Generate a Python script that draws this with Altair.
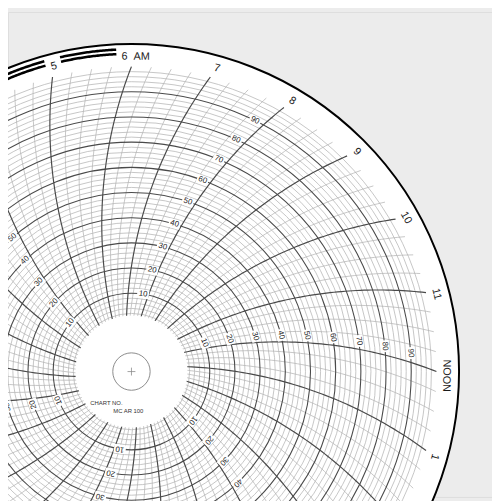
import math
import numpy as np
import pandas as pd
import altair as alt

# ---------------- data ----------------
hour_label_hours = [4, 5, 6, 7, 8, 9, 10, 11, 12, 13, 14]
hour_label_text = ["4", "5", "6\u00a0\u00a0AM", "7", "8", "9", "10", "11", "NOON", "1", "2"]
value_label_values = [10, 20, 30, 40, 50, 60, 70, 80, 90]
value_label_hours = [0, 4, 8, 12, 16, 20]
night_bar_hours = [3, 4, 5]          # thick bars from hour h to h+1
ring_values = list(range(2, 100, 2))  # value circles (every 2, major every 10)
time_line_quarters = list(range(96))  # time arcs every 15 minutes
chart_no_text = ["CHART NO.", "MC AR 100"]

# ---------------- geometry / style constants ----------------
CX_IMG, CY_IMG = 133.5, 373.5      # centre of the disc in the 500x501 picture
R0, R100 = 54.0, 310.0             # radius of value 0 and value 100
R_HOLE, R_HUB, R_EDGE = 57.0, 19.0, 333.0
R_HOUR = 320.0
R_BARS = [323.0, 327.6]
ARC_D, ARC_K, ARC_PHI = 436.3, -3154.0, -69.9
LABEL_SHIFT = -0.75
HOUR_FS, VALUE_FS = 11, 8
MINOR_C, MAJOR_C = "#b3b3b3", "#4a4a4a"

W, H = 492, 493
xs = alt.Scale(domain=[8 - CX_IMG, 8 - CX_IMG + W], nice=False, zero=False)
ys = alt.Scale(domain=[CY_IMG - 8 - H, CY_IMG - 8], nice=False, zero=False)


def rad(v):
    return R0 + (R100 - R0) * v / 100.0


def hour_angle(h):
    return (12 - h) * 15.0


def line_angle(h, r):
    c = (r * r + ARC_K) / (2 * r * ARC_D)
    return hour_angle(h) + ARC_PHI + math.degrees(math.acos(max(-1.0, min(1.0, c))))


CHAR_W = {"A": 0.667, "M": 0.833, "N": 0.722, "O": 0.778, "\u00a0": 0.278, " ": 0.278}


def text_w(s, fs):
    return sum(CHAR_W.get(ch, 0.556) for ch in s) * fs


def pol(r, deg):
    a = math.radians(deg)
    return r * math.cos(a), r * math.sin(a)


# time arcs
rows = []
rs = np.linspace(R0, R100, 70)
for q in time_line_quarters:
    h = q / 4.0
    for i, r in enumerate(rs):
        x, y = pol(r, line_angle(h, r))
        rows.append(dict(id=q, i=i, x=x, y=y, major=(q % 4 == 0)))
lines = pd.DataFrame(rows)

# value circles
rings = pd.DataFrame(
    [dict(x=0.0, y=0.0, size=(2 * rad(v)) ** 2, major=(v % 10 == 0)) for v in ring_values]
)

# discs
def disc(r):
    return pd.DataFrame([dict(x=0.0, y=0.0, size=(2 * r) ** 2)])


# hour labels
lab_of = dict(zip(hour_label_hours, hour_label_text))
hrows = []
for h, t in zip(hour_label_hours, hour_label_text):
    a = hour_angle(h) + LABEL_SHIFT
    x, y = pol(R_HOUR, a)
    hrows.append(dict(x=x, y=y, t=t, ang=(90 - a) % 360))
hours_df = pd.DataFrame(hrows)

# night bars
GAP = 5.0
brows = []
for k, h in enumerate(night_bar_hours):
    l1 = lab_of.get(h, str(h))
    l2 = lab_of.get(h + 1, str(h + 1))
    for j, rb in enumerate(R_BARS):
        a1 = hour_angle(h) + LABEL_SHIFT - math.degrees((text_w(l1, HOUR_FS) / 2 + GAP) / R_HOUR)
        a2 = hour_angle(h + 1) + LABEL_SHIFT + math.degrees((text_w(l2, HOUR_FS) / 2 + GAP) / R_HOUR)
        for i, a in enumerate(np.linspace(a1, a2, 40)):
            x, y = pol(rb, a)
            brows.append(dict(id=f"{k}-{j}", i=i, x=x, y=y))
bars = pd.DataFrame(brows)

# value labels
vrows = []
for h in value_label_hours:
    for v in value_label_values:
        r = rad(v)
        a = line_angle(h, r) + math.degrees((4.0 + 0.02 * r) / r)
        x, y = pol(r, a)
        vrows.append(dict(x=x, y=y, t=str(v), ang=(90 - a) % 360))
vals = pd.DataFrame(vrows)

# chart number text
cn = pd.DataFrame([dict(x=-41.8, y=-32.2, t=chart_no_text[0]), dict(x=-18.5, y=-40.5, t=chart_no_text[1])])
cross = pd.DataFrame([dict(x=0.0, y=0.0)])

X = alt.X("x:Q", scale=xs, axis=None)
Y = alt.Y("y:Q", scale=ys, axis=None)

paper = alt.Chart(disc(R_EDGE)).mark_point(
    shape="circle", filled=True, fill="white", stroke="black", strokeWidth=2, opacity=1
).encode(x=X, y=Y, size=alt.Size("size:Q", scale=None))

minor_rings = alt.Chart(rings).transform_filter("!datum.major").mark_point(
    shape="circle", filled=False, stroke=MINOR_C, strokeWidth=0.75, opacity=1
).encode(x=X, y=Y, size=alt.Size("size:Q", scale=None))

major_rings = alt.Chart(rings).transform_filter("datum.major").mark_point(
    shape="circle", filled=False, stroke=MAJOR_C, strokeWidth=1.1, opacity=1
).encode(x=X, y=Y, size=alt.Size("size:Q", scale=None))

minor_lines = alt.Chart(lines).transform_filter("!datum.major").mark_line(
    stroke=MINOR_C, strokeWidth=0.75
).encode(x=X, y=Y, detail="id:N", order="i:Q")

major_lines = alt.Chart(lines).transform_filter("datum.major").mark_line(
    stroke=MAJOR_C, strokeWidth=1.2
).encode(x=X, y=Y, detail="id:N", order="i:Q")

hole = alt.Chart(disc(R_HOLE)).mark_point(
    shape="circle", filled=True, fill="white", strokeWidth=0, opacity=1
).encode(x=X, y=Y, size=alt.Size("size:Q", scale=None))

hub = alt.Chart(disc(R_HUB)).mark_point(
    shape="circle", filled=False, stroke="#8a8a8a", strokeWidth=1, opacity=1
).encode(x=X, y=Y, size=alt.Size("size:Q", scale=None))

hub_cross = alt.Chart(cross).mark_point(
    shape="M-1,0L1,0M0,-1L0,1", filled=False, stroke="#8a8a8a", strokeWidth=0.8, opacity=1, size=64
).encode(x=X, y=Y)

night = alt.Chart(bars).mark_line(stroke="black", strokeWidth=2.6, strokeCap="butt").encode(
    x=X, y=Y, detail="id:N", order="i:Q"
)

val_boxes = alt.Chart(vals).mark_point(
    shape="M-1,-0.75L1,-0.75L1,0.75L-1,0.75Z", filled=True, fill="white", strokeWidth=0, opacity=1, size=144
).encode(x=X, y=Y, angle=alt.Angle("ang:Q", scale=None))

val_text = alt.Chart(vals).mark_text(
    font="Liberation Sans", fontSize=VALUE_FS, color="#222", align="center", baseline="middle"
).encode(x=X, y=Y, text="t:N", angle=alt.Angle("ang:Q", scale=None))

hour_text = alt.Chart(hours_df).mark_text(
    font="Liberation Sans", fontSize=HOUR_FS, color="#1a1a1a", align="center", baseline="middle"
).encode(x=X, y=Y, text="t:N", angle=alt.Angle("ang:Q", scale=None))

cn_text = alt.Chart(cn).mark_text(
    font="Liberation Sans", fontSize=6, color="#333", align="left", baseline="middle"
).encode(x=X, y=Y, text="t:N")

chart = alt.layer(
    paper, minor_rings, minor_lines, major_rings, major_lines, hole, hub, hub_cross,
    night, val_boxes, val_text, hour_text, cn_text
).properties(width=W, height=H, padding=0, autosize="none").configure_view(stroke=None).configure(
    background="#ececec"
)

chart.save("out.html", embed_options={"renderer": "svg", "actions": False})
